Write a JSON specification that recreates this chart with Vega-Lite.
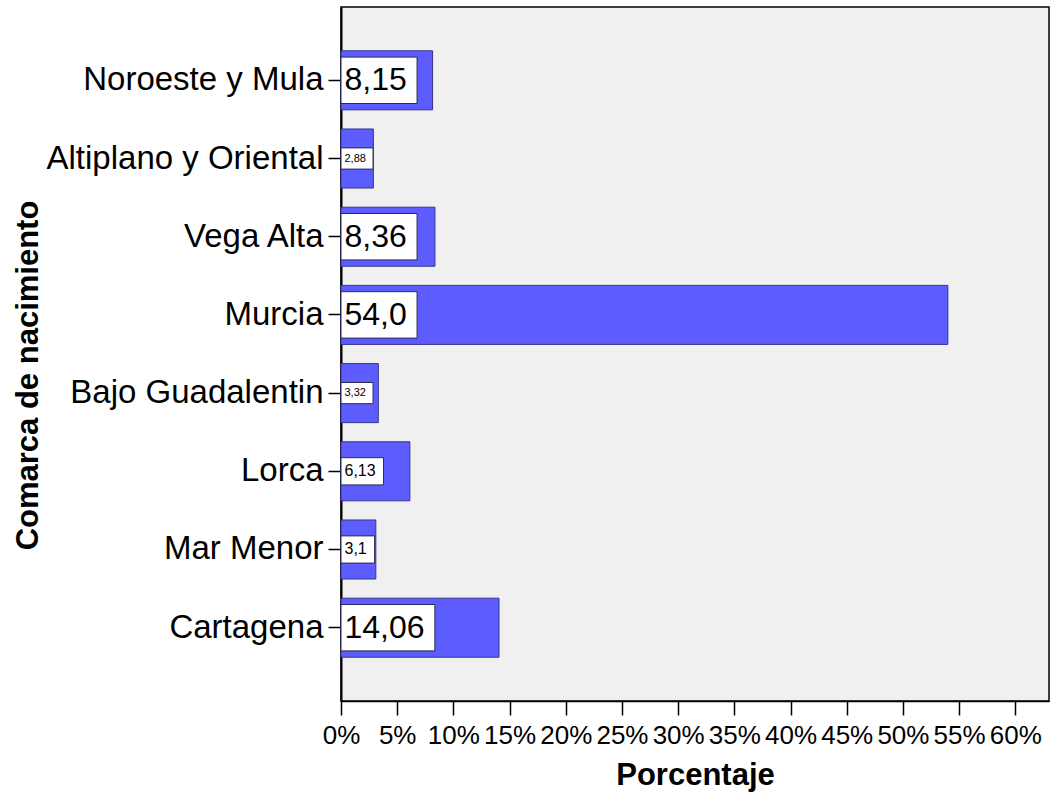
{
  "$schema": "https://vega.github.io/schema/vega-lite/v6.json",
  "width": 708,
  "height": 694,
  "autosize": {"type": "none"},
  "padding": {"left": 341, "top": 7, "right": 1, "bottom": 100},
  "background": "white",
  "config": {
    "font": "Liberation Sans",
    "view": {"fill": "#f0f0f0", "stroke": "black", "strokeWidth": 1.5},
    "axis": {"labelFont": "Liberation Sans", "titleFont": "Liberation Sans", "labelColor": "black", "titleColor": "black", "domainColor": "black", "tickColor": "black", "grid": false}
  },
  "data": {
    "values": [
      {"comarca": "Noroeste y Mula", "pct": 8.15, "label": "8,15"},
      {"comarca": "Altiplano y Oriental", "pct": 2.88, "label": "2,88"},
      {"comarca": "Vega Alta", "pct": 8.36, "label": "8,36"},
      {"comarca": "Murcia", "pct": 54.0, "label": "54,0"},
      {"comarca": "Bajo Guadalentin", "pct": 3.32, "label": "3,32"},
      {"comarca": "Lorca", "pct": 6.13, "label": "6,13"},
      {"comarca": "Mar Menor", "pct": 3.1, "label": "3,1"},
      {"comarca": "Cartagena", "pct": 14.06, "label": "14,06"}
    ]
  },
  "encoding": {
    "y": {
      "field": "comarca", "type": "nominal", "sort": null,
      "scale": {"paddingInner": 0.245, "paddingOuter": 0.56},
      "axis": {
        "title": "Comarca de nacimiento", "titleFontSize": 31, "titleFontWeight": "bold",
        "titleX": -304, "titleY": 368, "titleAngle": 270, "titleBaseline": "alphabetic", "titleAlign": "center",
        "labelFontSize": 33, "labelPadding": 5, "tickSize": 13, "tickWidth": 1.5, "domainWidth": 2,
        "labelLimit": 400
      }
    }
  },
  "layer": [
    {
      "mark": {"type": "bar", "fill": "#5c5cff", "stroke": "#35358c", "strokeWidth": 1},
      "encoding": {
        "x": {
          "field": "pct", "type": "quantitative",
          "scale": {"domain": [0, 63], "nice": false},
          "axis": {
            "title": "Porcentaje", "titleFontSize": 31, "titleFontWeight": "bold",
            "values": [0, 5, 10, 15, 20, 25, 30, 35, 40, 45, 50, 55, 60],
            "labelExpr": "datum.value + '%'",
            "labelFontSize": 26, "labelPadding": 7, "tickSize": 14, "tickWidth": 1.5, "domainWidth": 1.5,
            "titlePadding": 12, "labelOverlap": false, "labelFlush": false
          }
        }
      }
    },
    {
      "mark": {
        "type": "rect", "fill": "white", "stroke": "#2a2a50", "strokeWidth": 1,
        "x2Offset": {"expr": "(datum.pct >= 8 ? 32 : (datum.pct >= 6 || length(datum.label) <= 3 ? 16 : 11)) * (0.556 * (length(datum.label) - 1) + 0.278 + 0.15) + 9"},
        "height": {"expr": "1.2 * (datum.pct >= 8 ? 32 : (datum.pct >= 6 || length(datum.label) <= 3 ? 16 : 11)) + 8"}
      },
      "encoding": {
        "x": {"datum": 0, "type": "quantitative"},
        "x2": {"datum": 0}
      }
    },
    {
      "mark": {
        "type": "text", "align": "left", "baseline": "middle", "dx": 3.5, "color": "black",
        "font": "Liberation Sans",
        "fontSize": {"expr": "datum.pct >= 8 ? 32 : (datum.pct >= 6 || length(datum.label) <= 3 ? 16 : 11)"}
      },
      "encoding": {
        "x": {"datum": 0, "type": "quantitative"},
        "text": {"field": "label"}
      }
    }
  ]
}
